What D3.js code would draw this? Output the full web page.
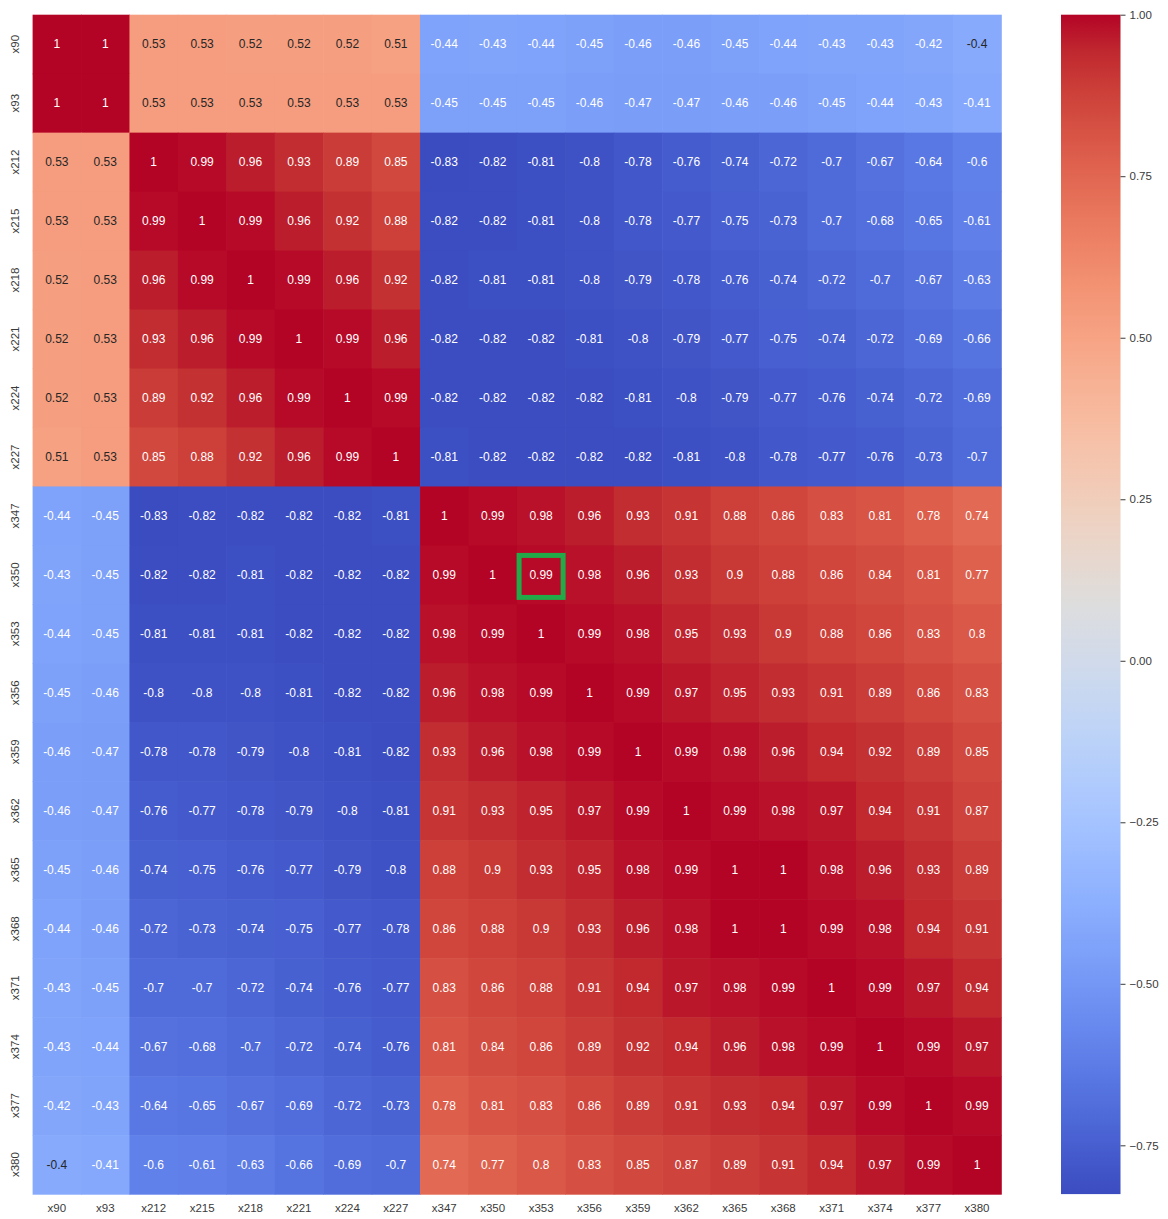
<!DOCTYPE html>
<html>
<head>
<meta charset="utf-8">
<script src="https://cdn.jsdelivr.net/npm/d3@7"></script>
<style>
  html, body { margin: 0; padding: 0; background: #fff; }
  svg { display: block; font-family: "Liberation Sans", Arial, sans-serif; }
</style>
</head>
<body>
<svg id="chart" width="1168" height="1219"></svg>
<script>
// Variable names along both axes
const variables = ["x90", "x93", "x212", "x215", "x218", "x221", "x224", "x227",
  "x347", "x350", "x353", "x356", "x359", "x362", "x365", "x368", "x371", "x374", "x377", "x380"];

// Correlation matrix, one row per variable
const r_x90  = [1, 1, 0.53, 0.53, 0.52, 0.52, 0.52, 0.51, -0.44, -0.43, -0.44, -0.45, -0.46, -0.46, -0.45, -0.44, -0.43, -0.43, -0.42, -0.4];
const r_x93  = [1, 1, 0.53, 0.53, 0.53, 0.53, 0.53, 0.53, -0.45, -0.45, -0.45, -0.46, -0.47, -0.47, -0.46, -0.46, -0.45, -0.44, -0.43, -0.41];
const r_x212 = [0.53, 0.53, 1, 0.99, 0.96, 0.93, 0.89, 0.85, -0.83, -0.82, -0.81, -0.8, -0.78, -0.76, -0.74, -0.72, -0.7, -0.67, -0.64, -0.6];
const r_x215 = [0.53, 0.53, 0.99, 1, 0.99, 0.96, 0.92, 0.88, -0.82, -0.82, -0.81, -0.8, -0.78, -0.77, -0.75, -0.73, -0.7, -0.68, -0.65, -0.61];
const r_x218 = [0.52, 0.53, 0.96, 0.99, 1, 0.99, 0.96, 0.92, -0.82, -0.81, -0.81, -0.8, -0.79, -0.78, -0.76, -0.74, -0.72, -0.7, -0.67, -0.63];
const r_x221 = [0.52, 0.53, 0.93, 0.96, 0.99, 1, 0.99, 0.96, -0.82, -0.82, -0.82, -0.81, -0.8, -0.79, -0.77, -0.75, -0.74, -0.72, -0.69, -0.66];
const r_x224 = [0.52, 0.53, 0.89, 0.92, 0.96, 0.99, 1, 0.99, -0.82, -0.82, -0.82, -0.82, -0.81, -0.8, -0.79, -0.77, -0.76, -0.74, -0.72, -0.69];
const r_x227 = [0.51, 0.53, 0.85, 0.88, 0.92, 0.96, 0.99, 1, -0.81, -0.82, -0.82, -0.82, -0.82, -0.81, -0.8, -0.78, -0.77, -0.76, -0.73, -0.7];
const r_x347 = [-0.44, -0.45, -0.83, -0.82, -0.82, -0.82, -0.82, -0.81, 1, 0.99, 0.98, 0.96, 0.93, 0.91, 0.88, 0.86, 0.83, 0.81, 0.78, 0.74];
const r_x350 = [-0.43, -0.45, -0.82, -0.82, -0.81, -0.82, -0.82, -0.82, 0.99, 1, 0.99, 0.98, 0.96, 0.93, 0.9, 0.88, 0.86, 0.84, 0.81, 0.77];
const r_x353 = [-0.44, -0.45, -0.81, -0.81, -0.81, -0.82, -0.82, -0.82, 0.98, 0.99, 1, 0.99, 0.98, 0.95, 0.93, 0.9, 0.88, 0.86, 0.83, 0.8];
const r_x356 = [-0.45, -0.46, -0.8, -0.8, -0.8, -0.81, -0.82, -0.82, 0.96, 0.98, 0.99, 1, 0.99, 0.97, 0.95, 0.93, 0.91, 0.89, 0.86, 0.83];
const r_x359 = [-0.46, -0.47, -0.78, -0.78, -0.79, -0.8, -0.81, -0.82, 0.93, 0.96, 0.98, 0.99, 1, 0.99, 0.98, 0.96, 0.94, 0.92, 0.89, 0.85];
const r_x362 = [-0.46, -0.47, -0.76, -0.77, -0.78, -0.79, -0.8, -0.81, 0.91, 0.93, 0.95, 0.97, 0.99, 1, 0.99, 0.98, 0.97, 0.94, 0.91, 0.87];
const r_x365 = [-0.45, -0.46, -0.74, -0.75, -0.76, -0.77, -0.79, -0.8, 0.88, 0.9, 0.93, 0.95, 0.98, 0.99, 1, 1, 0.98, 0.96, 0.93, 0.89];
const r_x368 = [-0.44, -0.46, -0.72, -0.73, -0.74, -0.75, -0.77, -0.78, 0.86, 0.88, 0.9, 0.93, 0.96, 0.98, 1, 1, 0.99, 0.98, 0.94, 0.91];
const r_x371 = [-0.43, -0.45, -0.7, -0.7, -0.72, -0.74, -0.76, -0.77, 0.83, 0.86, 0.88, 0.91, 0.94, 0.97, 0.98, 0.99, 1, 0.99, 0.97, 0.94];
const r_x374 = [-0.43, -0.44, -0.67, -0.68, -0.7, -0.72, -0.74, -0.76, 0.81, 0.84, 0.86, 0.89, 0.92, 0.94, 0.96, 0.98, 0.99, 1, 0.99, 0.97];
const r_x377 = [-0.42, -0.43, -0.64, -0.65, -0.67, -0.69, -0.72, -0.73, 0.78, 0.81, 0.83, 0.86, 0.89, 0.91, 0.93, 0.94, 0.97, 0.99, 1, 0.99];
const r_x380 = [-0.4, -0.41, -0.6, -0.61, -0.63, -0.66, -0.69, -0.7, 0.74, 0.77, 0.8, 0.83, 0.85, 0.87, 0.89, 0.91, 0.94, 0.97, 0.99, 1];

const matrixRows = [r_x90, r_x93, r_x212, r_x215, r_x218, r_x221, r_x224, r_x227,
  r_x347, r_x350, r_x353, r_x356, r_x359, r_x362, r_x365, r_x368, r_x371, r_x374, r_x377, r_x380];

// Colour range of the map and the colour-bar ticks
const colorMin = -0.8255;
const colorMax = 1.0;
const colorbarTicks = [1.0, 0.75, 0.5, 0.25, 0.0, -0.25, -0.5, -0.75];

// Highlighted cell (row, column)
const highlightRow = "x350";
const highlightCol = "x353";

// Diverging "coolwarm" palette (Moreland), 33 control points
const coolwarm = [
  [59,76,192],[68,90,204],[77,104,215],[87,117,225],[98,130,234],[108,142,241],[119,154,247],[130,165,251],
  [141,176,254],[152,185,255],[163,194,255],[174,201,253],[184,208,249],[194,213,244],[204,217,238],[213,219,230],
  [221,221,221],[229,216,209],[236,211,197],[241,204,185],[245,196,173],[247,187,160],[247,177,148],[247,166,135],
  [244,154,123],[241,141,111],[236,127,99],[229,112,88],[222,96,77],[213,80,66],[203,62,56],[192,40,47],[180,4,38]
];

const svg = d3.select("#chart");

const plot = { left: 32.6, top: 14.7, right: 1001.2, bottom: 1194.1 };
const bar = { left: 1061, right: 1120.5 };

const x = d3.scaleBand().domain(variables).range([plot.left, plot.right]).padding(0);
const y = d3.scaleBand().domain(variables).range([plot.top, plot.bottom]).padding(0);

const paletteScale = d3.scaleLinear()
  .domain(coolwarm.map((_, i) => i / (coolwarm.length - 1)))
  .range(coolwarm.map(c => d3.rgb(c[0], c[1], c[2])))
  .interpolate(d3.interpolateRgb)
  .clamp(true);
const norm = d3.scaleLinear().domain([colorMin, colorMax]).clamp(true);
const color = v => paletteScale(norm(v));

// Relative luminance decides between dark and white annotation text
function luminance(c) {
  const rgb = d3.rgb(c);
  const lin = u => { u /= 255; return u <= 0.03928 ? u / 12.92 : Math.pow((u + 0.055) / 1.055, 2.4); };
  return 0.2126 * lin(rgb.r) + 0.7152 * lin(rgb.g) + 0.0722 * lin(rgb.b);
}

const cells = [];
matrixRows.forEach((row, i) => row.forEach((v, j) => cells.push({ row: variables[i], col: variables[j], v })));

const annotFormat = d3.formatLocale({ decimal: ".", thousands: ",", grouping: [3], currency: ["", ""], minus: "-" }).format(".2~g");

// Cells
svg.append("g").selectAll("rect")
  .data(cells)
  .join("rect")
  .attr("x", d => x(d.col))
  .attr("y", d => y(d.row))
  .attr("width", x.bandwidth() + 0.6)
  .attr("height", y.bandwidth() + 0.6)
  .attr("fill", d => color(d.v));

// Annotations
svg.append("g").selectAll("text")
  .data(cells)
  .join("text")
  .attr("x", d => x(d.col) + x.bandwidth() / 2)
  .attr("y", d => y(d.row) + y.bandwidth() / 2)
  .attr("dy", "0.35em")
  .attr("text-anchor", "middle")
  .attr("font-size", 12)
  .attr("fill", d => luminance(color(d.v)) > 0.404 ? "#262626" : "#ffffff")
  .text(d => annotFormat(d.v));

// Highlight frame
const hw = 44, hh = 42;
svg.append("rect")
  .attr("x", x(highlightCol) + x.bandwidth() / 2 - hw / 2)
  .attr("y", y(highlightRow) + y.bandwidth() / 2 - hh / 2 + 1.5)
  .attr("width", hw)
  .attr("height", hh)
  .attr("fill", "none")
  .attr("stroke", "#22aa48")
  .attr("stroke-width", 5);

// Bottom axis
const xAxis = svg.append("g")
  .attr("transform", `translate(0,${plot.bottom})`)
  .call(d3.axisBottom(x).tickSize(0).tickPadding(10));
xAxis.select(".domain").remove();
xAxis.selectAll("text").attr("font-size", 11.5).attr("fill", "#3a3a3a").attr("font-family", null);

// Left axis with rotated labels
const yAxis = svg.append("g")
  .attr("transform", `translate(${plot.left},0)`)
  .call(d3.axisLeft(y).tickSize(0));
yAxis.select(".domain").remove();
yAxis.selectAll("text")
  .attr("font-size", 11.5)
  .attr("fill", "#3a3a3a")
  .attr("font-family", null)
  .attr("x", 0)
  .attr("dy", "0.35em")
  .attr("text-anchor", "middle")
  .attr("transform", "translate(-18,0) rotate(-90)");

// Colour bar
const cbScale = d3.scaleLinear().domain([colorMin, colorMax]).range([plot.bottom, plot.top]);
const grad = svg.append("defs").append("linearGradient")
  .attr("id", "cbGrad").attr("x1", 0).attr("y1", 1).attr("x2", 0).attr("y2", 0);
grad.selectAll("stop")
  .data(d3.range(0, 1.0001, 1 / 64))
  .join("stop")
  .attr("offset", t => t)
  .attr("stop-color", t => paletteScale(t));

svg.append("rect")
  .attr("x", bar.left)
  .attr("y", plot.top)
  .attr("width", bar.right - bar.left)
  .attr("height", plot.bottom - plot.top)
  .attr("fill", "url(#cbGrad)");

const cbAxis = svg.append("g")
  .attr("transform", `translate(${bar.right},0)`)
  .call(d3.axisRight(cbScale).tickValues(colorbarTicks).tickSize(5).tickPadding(4).tickFormat(d3.format(".2f")));
cbAxis.select(".domain").remove();
cbAxis.selectAll("line").attr("stroke", "#3a3a3a");
cbAxis.selectAll("text").attr("font-size", 11.5).attr("fill", "#3a3a3a").attr("font-family", null);
</script>
</body>
</html>
